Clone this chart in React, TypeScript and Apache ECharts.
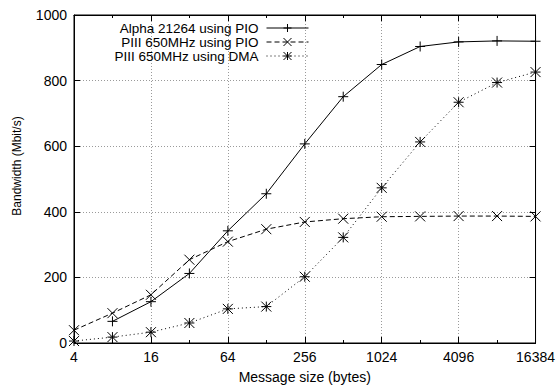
import React, { useEffect, useRef } from "react";
import * as echarts from "echarts";

const sizes = [4, 8, 16, 32, 64, 128, 256, 512, 1024, 2048, 4096, 8192, 16384];
const alphaPIO = [null, 66, 126, 212, 342, 455, 607, 751, 849, 904, 918, 921, 920];
const piiiPIO = [39, 91, 147, 254, 309, 347, 369, 379, 385, 386, 387, 387, 386];
const piiiDMA = [6, 18, 33, 61, 104, 111, 202, 322, 473, 613, 734, 794, 826];
const seriesNames = ["Alpha 21264 using PIO", "PIII 650MHz using PIO", "PIII 650MHz using DMA"];
const xTitle = "Message size (bytes)";
const yTitle = "Bandwidth (Mbit/s)";

const FONT = "Liberation Sans, Arial, Helvetica, sans-serif";
const PLUS = "path://M0,5L10,5M5,0L5,10";
const CROSS = "path://M0,0L10,10M10,0L0,10";
const STAR = "path://M0,5L10,5M5,0L5,10M0,0L10,10M10,0L0,10";

function pairs(vals: (number | null)[]) {
  return sizes.map((s, i) => [s, vals[i]]).filter((p) => p[1] !== null);
}

export default function App() {
  const ref = useRef<HTMLDivElement>(null);
  useEffect(() => {
    if (!ref.current) return;
    const chart = echarts.init(ref.current, null, { renderer: "svg" });
    const xBase = { type: "log", logBase: 2, min: 4, max: 16384, gridIndex: 0 };
    const black = { color: "#000", width: 1 };
    const mkSeries = (name: string, vals: (number | null)[], symbol: string, type: any) => ({
      name,
      type: "line",
      xAxisIndex: 0,
      yAxisIndex: 0,
      data: pairs(vals),
      symbol,
      symbolSize: 10,
      showAllSymbol: true,
      itemStyle: { color: "#000", borderColor: "#000", borderWidth: 1 },
      lineStyle: { color: "#000", width: 1, type },
      emphasis: { disabled: true },
    });
    const mkLegend = (name: string, top: number) => ({
      data: [name],
      right: 249,
      top,
      orient: "horizontal",
      align: "right",
      itemWidth: 42,
      itemHeight: 10,
      padding: 0,
      itemGap: 0,
      selectedMode: false,
      lineStyle: { width: 1 },
      itemStyle: { borderWidth: 1 },
      textStyle: { color: "#000", fontSize: 13.5, lineHeight: 13, fontFamily: FONT, padding: [0, 3, 0, 0] },
    });
    chart.setOption({
      animation: false,
      textStyle: { fontFamily: FONT },
      grid: {
        left: 74,
        right: 21,
        top: 15,
        bottom: 42,
        show: true,
        borderColor: "#000",
        borderWidth: 1,
        containLabel: false,
      },
      graphic: [
        {
          type: "text",
          x: 17,
          y: 166,
          rotation: Math.PI / 2,
          style: {
            text: yTitle,
            fill: "#000",
            fontSize: 12,
            fontFamily: FONT,
            align: "center",
            verticalAlign: "middle",
          },
        },
      ],
      legend: [mkLegend(seriesNames[0], 21), mkLegend(seriesNames[1], 35), mkLegend(seriesNames[2], 49)],
      xAxis: [
        {
          ...xBase,
          position: "bottom",
          interval: 2,
          name: xTitle,
          nameLocation: "middle",
          nameGap: 27,
          nameTextStyle: { color: "#000", fontSize: 14, fontFamily: FONT },
          axisLine: { show: true, lineStyle: black },
          axisTick: { show: true, inside: true, length: 6, lineStyle: black },
          axisLabel: { color: "#000", fontSize: 14, fontFamily: FONT, margin: 7, formatter: (v: number) => String(Math.round(v)) },
          splitLine: { show: true, lineStyle: { color: "#9a9a9a", type: [1, 2], width: 1 } },
        },
        {
          ...xBase,
          position: "bottom",
          interval: 1,
          axisLine: { show: false },
          axisTick: { show: true, inside: true, length: 3, lineStyle: black },
          axisLabel: { show: false },
          splitLine: { show: false },
        },
        {
          ...xBase,
          position: "top",
          interval: 2,
          axisLine: { show: true, lineStyle: black },
          axisTick: { show: true, inside: true, length: 6, lineStyle: black },
          axisLabel: { show: false },
          splitLine: { show: false },
        },
        {
          ...xBase,
          position: "top",
          interval: 1,
          axisLine: { show: false },
          axisTick: { show: true, inside: true, length: 3, lineStyle: black },
          axisLabel: { show: false },
          splitLine: { show: false },
        },
      ],
      yAxis: [
        {
          type: "value",
          position: "left",
          min: 0,
          max: 1000,
          interval: 200,
          axisLine: { show: true, lineStyle: black },
          axisTick: { show: true, inside: true, length: 6, lineStyle: black },
          axisLabel: { color: "#000", fontSize: 14, fontFamily: FONT, margin: 7, formatter: (v: number) => String(v) },
          splitLine: { show: true, lineStyle: { color: "#9a9a9a", type: [1, 2], width: 1 } },
        },
        {
          type: "value",
          position: "right",
          min: 0,
          max: 1000,
          interval: 200,
          axisLine: { show: true, lineStyle: black },
          axisTick: { show: true, inside: true, length: 6, lineStyle: black },
          axisLabel: { show: false },
          splitLine: { show: false },
        },
      ],
      series: [
        mkSeries(seriesNames[0], alphaPIO, PLUS, "solid"),
        mkSeries(seriesNames[1], piiiPIO, CROSS, [5, 3]),
        mkSeries(seriesNames[2], piiiDMA, STAR, [1, 3]),
      ],
    });
    return () => chart.dispose();
  }, []);
  return <div ref={ref} style={{ width: 558, height: 389, position: "absolute", left: 0, top: 0 }} />;
}
